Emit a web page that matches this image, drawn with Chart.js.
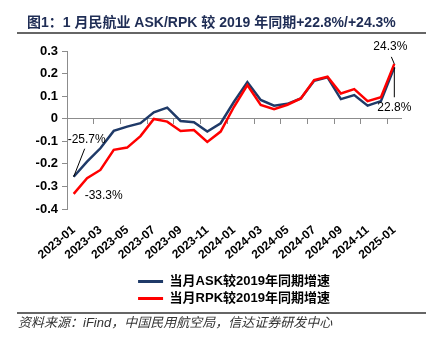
<!DOCTYPE html>
<html>
<head>
<meta charset="utf-8">
<script src="https://cdn.jsdelivr.net/npm/chart.js@4.4.1/dist/chart.umd.min.js"></script>
<style>
  html, body { margin: 0; padding: 0; background: #fff; }
  canvas { display: block; }
</style>
</head>
<body>
<canvas id="chart" width="437" height="345"></canvas>
<script>
const titleText = '图1：1 月民航业 ASK/RPK 较 2019 年同期+22.8%/+24.3%'
const sourceText = '资料来源：iFind，中国民用航空局，信达证券研发中心'

const months = [
  '2023-01', '2023-02', '2023-03', '2023-04', '2023-05', '2023-06', '2023-07', '2023-08', '2023-09',
  '2023-10', '2023-11', '2023-12', '2024-01', '2024-02', '2024-03', '2024-04', '2024-05', '2024-06',
  '2024-07', '2024-08', '2024-09', '2024-10', '2024-11', '2024-12', '2025-01'
]
const askGrowth = [
  -0.257, -0.19, -0.131, -0.054, -0.035, -0.02, 0.028, 0.049, -0.01, -0.016, -0.057, -0.02,
  0.075, 0.162, 0.083, 0.058, 0.066, 0.09, 0.168, 0.183, 0.087, 0.105, 0.058, 0.078, 0.228
]
const rpkGrowth = [
  -0.333, -0.264, -0.227, -0.138, -0.128, -0.077, -0.001, -0.013, -0.054, -0.05, -0.103, -0.057,
  0.053, 0.149, 0.061, 0.042, 0.062, 0.09, 0.171, 0.186, 0.112, 0.131, 0.078, 0.095, 0.243
]
const yTicks = [0.3, 0.2, 0.1, 0, -0.1, -0.2, -0.3, -0.4]

const FONT = '"Liberation Sans", "Noto Sans CJK SC", sans-serif'
const NAVY = '#1f3a68'
const RED = '#ff0000'
const AXIS = '#8c8c8c'

const pct = v => (v * 100).toFixed(1) + '%'

// title, rules, source, and the end-point labels
const decorations = {
  id: 'decorations',
  afterDatasetsDraw(chart) {
    const c = chart.ctx
    c.save()
    c.fillStyle = '#1f2d55'
    c.font = 'bold 14px ' + FONT
    c.textBaseline = 'middle'
    c.fillText(titleText, 27, 23)

    c.strokeStyle = '#666'
    c.lineWidth = 2
    c.beginPath()
    c.moveTo(17, 33); c.lineTo(426, 33)
    c.moveTo(17, 313); c.lineTo(426, 313)
    c.stroke()

    c.fillStyle = '#333'
    c.font = 'italic 13px ' + FONT
    c.fillText(sourceText, 18, 323)

    const a = chart.getDatasetMeta(0).data
    const r = chart.getDatasetMeta(1).data
    const last = askGrowth.length - 1
    c.fillStyle = '#000'
    c.font = '12px ' + FONT
    c.strokeStyle = '#000'
    c.lineWidth = 1

    // ASK first
    c.textAlign = 'left'
    c.fillText(pct(askGrowth[0]), a[0].x - 6, a[0].y - 37)
    c.beginPath(); c.moveTo(a[0].x, a[0].y); c.lineTo(a[0].x + 11, a[0].y - 28); c.stroke()
    // RPK first
    c.fillText(pct(rpkGrowth[0]), r[0].x + 11, r[0].y + 2)
    // RPK last
    c.textAlign = 'center'
    c.fillText(pct(rpkGrowth[last]), r[last].x - 4, r[last].y - 17)
    c.beginPath(); c.moveTo(r[last].x - 3, r[last].y - 7); c.lineTo(r[last].x, r[last].y); c.stroke()
    // ASK last
    c.fillText(pct(askGrowth[last]), a[last].x, a[last].y + 40)
    c.beginPath(); c.moveTo(a[last].x, a[last].y); c.lineTo(a[last].x, a[last].y + 30); c.stroke()
    c.restore()
  }
}

new Chart(document.getElementById('chart'), {
  type: 'line',
  data: {
    labels: months,
    datasets: [
      {
        label: '当月ASK较2019年同期增速',
        data: askGrowth,
        borderColor: NAVY,
        backgroundColor: NAVY,
        borderWidth: 2.5,
        pointRadius: 0,
        tension: 0,
        order: 2
      },
      {
        label: '当月RPK较2019年同期增速',
        data: rpkGrowth,
        borderColor: RED,
        backgroundColor: RED,
        borderWidth: 2.5,
        pointRadius: 0,
        tension: 0,
        order: 1
      }
    ]
  },
  options: {
    responsive: false,
    animation: false,
    devicePixelRatio: 1,
    layout: { padding: { left: 0, right: 36, top: 51, bottom: 30 } },
    plugins: {
      title: { display: false },
      tooltip: { enabled: false },
      legend: {
        position: 'bottom',
        fullSize: false,
        labels: {
          color: '#000',
          boxWidth: 25,
          boxHeight: 3,
          padding: 4,
          font: { family: FONT, size: 13, weight: 'bold' },
          sort: (a, b) => a.datasetIndex - b.datasetIndex,
          generateLabels(chart) {
            return Chart.defaults.plugins.legend.labels.generateLabels(chart).map(item => {
              item.fillStyle = item.strokeStyle
              item.lineWidth = 0
              return item
            })
          }
        }
      }
    },
    scales: {
      x: {
        position: 'bottom',
        offset: true,
        border: { display: false },
        grid: { display: false, drawTicks: false },
        ticks: {
          autoSkip: false,
          minRotation: 40,
          maxRotation: 40,
          padding: 14,
          color: '#000',
          font: { family: FONT, size: 12, weight: 'bold' },
          callback: (v, i) => (i % 2 === 0 ? months[i] : '')
        },
        afterFit: scale => { scale.height = 62 }
      },
      // zero line with tick marks every two months
      x2: {
        type: 'category',
        labels: months,
        position: { y: 0 },
        offset: true,
        border: { display: true, color: AXIS, width: 1 },
        grid: {
          offset: true,
          drawOnChartArea: false,
          drawTicks: true,
          tickLength: 5,
          color: ctx => (ctx.index % 2 === 0 && ctx.index > 0 && ctx.index < months.length ? AXIS : 'rgba(0,0,0,0)')
        },
        ticks: { display: false }
      },
      y: {
        min: yTicks[yTicks.length - 1],
        max: yTicks[0],
        border: { display: true, color: AXIS, width: 1 },
        grid: { drawOnChartArea: false, drawTicks: true, tickLength: 5, color: AXIS },
        afterBuildTicks: scale => { scale.ticks = yTicks.map(v => ({ value: v })) },
        ticks: {
          padding: 4,
          color: '#000',
          font: { family: FONT, size: 13, weight: 'bold' },
          callback: v => String(+v.toFixed(1))
        },
        afterFit: scale => { scale.width = 67 }
      }
    }
  },
  plugins: [decorations]
})
</script>
</body>
</html>
